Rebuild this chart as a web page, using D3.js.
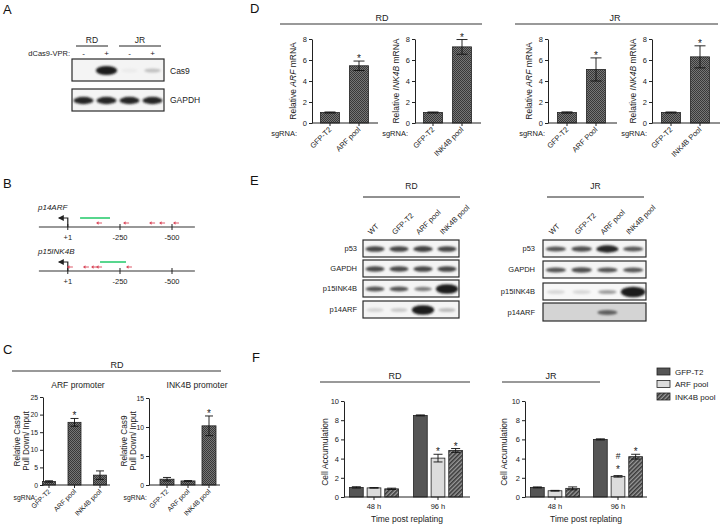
<!DOCTYPE html>
<html><head><meta charset="utf-8">
<script src="https://cdn.jsdelivr.net/npm/d3@7"></script>
<style>body{margin:0;background:#fff} svg{display:block;font-family:"Liberation Sans",Arial,sans-serif}</style>
</head><body><svg id="c" width="722" height="525"></svg>
<script>
// ---------------- DATA ----------------
// Panel A blot
const aLanes = ["-", "+", "-", "+"];
const aCells = ["RD", "JR"];
const aCas9 = [0.0, 0.95, 0.02, 0.2];
const aGapdh = [0.85, 0.85, 0.85, 0.85];

// Panel B promoter maps (bp relative to TSS)
const bTicks = [1, -250, -500];
const bArfGuide = [-58, -202];
const bArfPrimers = [-154, -284, -409, -457, -524];
const bInkGuide = [-154, -279];
const bInkPrimers = [-14, -91, -130, -154, -298];

// Panel C
const cCats = ["GFP-T2", "ARF pool", "INK4B pool"];
const cArfVals = [1.0, 17.8, 2.8];
const cArfErr = [0.2, 1.1, 1.2];
const cArfSig = ["", "*", ""];
const cArfTicks = [0, 5, 10, 15, 20, 25];
const cInkVals = [1.0, 0.7, 10.2];
const cInkErr = [0.3, 0.05, 1.7];
const cInkSig = ["", "", "*"];
const cInkTicks = [0, 5, 10, 15];

// Panel D
const dTicks = [0, 2, 4, 6, 8];
const dRdArfCats = ["GFP-T2", "ARF pool"];
const dRdArfVals = [1.0, 5.45];
const dRdArfErr = [0.05, 0.45];
const dRdInkCats = ["GFP-T2", "INK4B pool"];
const dRdInkVals = [1.0, 7.25];
const dRdInkErr = [0.05, 0.7];
const dJrArfCats = ["GFP-T2", "ARF Pool"];
const dJrArfVals = [1.0, 5.1];
const dJrArfErr = [0.06, 1.1];
const dJrInkCats = ["GFP-T2", "INK4B Pool"];
const dJrInkVals = [1.0, 6.3];
const dJrInkErr = [0.05, 1.05];
const dSig = ["", "*"];

// Panel E blots
const eLanes = ["WT", "GFP-T2", "ARF pool", "INK4B pool"];
const eRows = ["p53", "GAPDH", "p15INK4B", "p14ARF"];
const eRd = [
  [0.72, 0.72, 0.74, 0.72],
  [0.7, 0.7, 0.72, 0.72],
  [0.66, 0.66, 0.48, 0.97],
  [0.12, 0.16, 0.97, 0.22]
];
const eJr = [
  [0.66, 0.68, 0.85, 0.64],
  [0.66, 0.68, 0.66, 0.64],
  [0.1, 0.1, 0.35, 1.0],
  [0.0, 0.0, 0.62, 0.0]
];

// Panel F
const fSeries = ["GFP-T2", "ARF pool", "INK4B pool"];
const fTimes = ["48 h", "96 h"];
const fTicks = [0, 2, 4, 6, 8, 10];
const fRdVals = [[1.0, 0.95, 0.85], [8.5, 4.05, 4.85]];
const fRdErr = [[0.07, 0.03, 0.07], [0.05, 0.4, 0.2]];
const fRdSig = [[[], [], []], [[], ["*"], ["*"]]];
const fJrVals = [[1.0, 0.65, 0.9], [6.0, 2.15, 4.2]];
const fJrErr = [[0.05, 0.04, 0.15], [0.06, 0.08, 0.25]];
const fJrSig = [[[], [], []], [[], ["*", "#"], ["*"]]];

// ---------------- DRAWING ----------------
const svg = d3.select("#c");
svg.append("rect").attr("width", 722).attr("height", 525).attr("fill", "#fff");
const defs = svg.append("defs");

const cross = defs.append("pattern").attr("id", "cross").attr("patternUnits", "userSpaceOnUse")
  .attr("width", 2).attr("height", 2);
cross.append("rect").attr("width", 2).attr("height", 2).attr("fill", "#767676");
cross.append("rect").attr("width", 1).attr("height", 1).attr("fill", "#383838");
cross.append("rect").attr("x", 1).attr("y", 1).attr("width", 1).attr("height", 1).attr("fill", "#383838");

const hatch = defs.append("pattern").attr("id", "hatch").attr("patternUnits", "userSpaceOnUse")
  .attr("width", 3).attr("height", 3).attr("patternTransform", "rotate(45)");
hatch.append("rect").attr("width", 3).attr("height", 3).attr("fill", "#9a9a9a");
hatch.append("rect").attr("width", 1.6).attr("height", 3).attr("fill", "#3a3a3a");

const blur = defs.append("filter").attr("id", "blur").attr("x", "-20%").attr("y", "-50%")
  .attr("width", "140%").attr("height", "200%");
blur.append("feGaussianBlur").attr("stdDeviation", 0.9);

const arrowM = defs.append("marker").attr("id", "tss").attr("viewBox", "0 0 6 6")
  .attr("refX", 5).attr("refY", 3).attr("markerWidth", 5).attr("markerHeight", 5).attr("orient", "auto");
arrowM.append("path").attr("d", "M0,0 L6,3 L0,6 Z").attr("fill", "#222");

const fillFor = { "GFP-T2": "#555", "ARF pool": "#dcdcdc", "INK4B pool": "url(#hatch)" };

function txt(x, y, s, size, anchor, opts = {}) {
  const t = svg.append("text").attr("x", x).attr("y", y).attr("font-size", size)
    .attr("text-anchor", anchor || "start").attr("fill", opts.fill || "#222").text(s);
  if (opts.italic) t.attr("font-style", "italic");
  return t;
}
function hline(x0, x1, y, color, w) {
  svg.append("line").attr("x1", x0).attr("x2", x1).attr("y1", y).attr("y2", y)
    .attr("stroke", color).attr("stroke-width", w);
}

[["A", 3, 14], ["B", 3, 188], ["C", 3, 354], ["D", 250, 13], ["E", 250, 185], ["F", 252, 362]]
  .forEach(([l, x, y]) => txt(x, y, l, 13, "start", { fill: "#111" }));

function blot(x0, x1, y0, y1, vals, bg) {
  const g = svg.append("g");
  g.append("rect").attr("x", x0).attr("y", y0).attr("width", x1 - x0).attr("height", y1 - y0)
    .attr("fill", bg || "#f4f4f4");
  const lane = d3.scaleBand().domain(d3.range(vals.length)).range([x0, x1]);
  const col = d3.scaleLinear().domain([0, 1]).range(["#f0f0f0", "#1e1e1e"]).clamp(true);
  const bands = g.append("g").attr("filter", "url(#blur)");
  vals.forEach((v, i) => {
    if (v <= 0) return;
    const bw = lane.bandwidth();
    bands.append("ellipse").attr("cx", lane(i) + bw / 2).attr("cy", (y0 + y1) / 2 + 0.5)
      .attr("rx", bw * (0.36 + 0.12 * Math.pow(v, 3))).attr("ry", 2.0 + 3.2 * Math.pow(v, 4))
      .attr("fill", col(Math.min(1, v * 1.12)));
  });
  g.append("rect").attr("x", x0).attr("y", y0).attr("width", x1 - x0).attr("height", y1 - y0)
    .attr("fill", "none").attr("stroke", "#2a2a2a").attr("stroke-width", 1.2);
  return lane;
}

// ---- Panel A ----
(function () {
  const x0 = 72, x1 = 164;
  const lane = d3.scaleBand().domain(d3.range(aLanes.length)).range([x0, x1]);
  txt(92, 43, aCells[0], 8.5, "middle");
  txt(140, 43, aCells[1], 8.5, "middle");
  hline(76, 108, 46, "#222", 1);
  hline(119, 161, 46, "#222", 1);
  txt(70, 56, "dCas9-VPR:", 7.5, "end");
  aLanes.forEach((s, i) => txt(lane(i) + lane.bandwidth() / 2, 56, s, 8, "middle"));
  blot(x0, x1, 59, 81, aCas9);
  blot(x0, x1, 89, 111, aGapdh);
  txt(170, 74, "Cas9", 8.5, "start");
  txt(170, 103, "GAPDH", 8.5, "start");
})();

// ---- Panel B ----
(function () {
  const x = d3.scaleLinear().domain([0, -500]).range([68, 172]);
  function track(yBase, name, guide, primers) {
    txt(38, yBase - 17, name, 8, "start", { italic: true });
    hline(x(140), x(-610), yBase, "#333", 1.2);
    bTicks.forEach(t => {
      svg.append("line").attr("x1", x(t)).attr("x2", x(t)).attr("y1", yBase - 3).attr("y2", yBase + 3)
        .attr("stroke", "#222").attr("stroke-width", 1);
      txt(x(t), yBase + 13, t > 0 ? "+" + t : String(t), 7.5, "middle");
    });
    svg.append("path").attr("d", `M${x(1)},${yBase} V${yBase - 9} H${x(1) - 9}`)
      .attr("fill", "none").attr("stroke", "#222").attr("stroke-width", 1.2).attr("marker-end", "url(#tss)");
    hline(x(guide[0]), x(guide[1]), yBase - 9, "#2ecc71", 1.6);
    primers.forEach(p => {
      const px = x(p), py = yBase - 4;
      svg.append("line").attr("x1", px - 3).attr("x2", px + 2).attr("y1", py).attr("y2", py)
        .attr("stroke", "#d9475a").attr("stroke-width", 0.9);
      svg.append("path").attr("d", `M${px - 4},${py} L${px - 1.5},${py - 1.8} L${px - 1.5},${py + 1.8} Z`)
        .attr("fill", "#d9475a");
    });
  }
  track(227, "p14ARF", bArfGuide, bArfPrimers);
  track(271, "p15INK4B", bInkGuide, bInkPrimers);
})();

// ---- simple bar chart helper (C, D) ----
function simpleBar(o) {
  const fs = o.fs || 7.5;
  const y = d3.scaleLinear().domain([0, o.max]).range([o.y0, o.y1]);
  const x = d3.scalePoint().domain(o.cats).range([o.c0, o.c1]);
  const g = svg.append("g");
  const ya = g.append("g").attr("transform", `translate(${o.x0},0)`)
    .call(d3.axisLeft(y).tickValues(o.ticks).tickSize(3).tickSizeOuter(0).tickPadding(2));
  ya.select(".domain").attr("stroke", "#222");
  ya.selectAll(".tick line").attr("stroke", "#222");
  ya.selectAll("text").attr("font-size", fs).attr("fill", "#222").attr("font-family", "Liberation Sans, Arial");
  g.selectAll(".bar").data(o.cats).join("rect")
    .attr("x", d => x(d) - o.bw / 2).attr("width", o.bw)
    .attr("y", (d, i) => y(o.vals[i])).attr("height", (d, i) => o.y0 - y(o.vals[i]))
    .attr("fill", "url(#cross)").attr("stroke", "#222").attr("stroke-width", 0.8);
  o.cats.forEach((c, i) => {
    const cx = x(c), lo = y(o.vals[i] - o.errs[i]), hi = y(o.vals[i] + o.errs[i]);
    g.append("line").attr("x1", cx).attr("x2", cx).attr("y1", lo).attr("y2", hi).attr("stroke", "#111").attr("stroke-width", 0.9);
    [lo, hi].forEach(yy => g.append("line").attr("x1", cx - o.cap / 2).attr("x2", cx + o.cap / 2)
      .attr("y1", yy).attr("y2", yy).attr("stroke", "#111").attr("stroke-width", 0.9));
    if (o.sig[i]) txt(cx, hi + 1, o.sig[i], 10, "middle");
  });
  g.append("line").attr("x1", o.x0).attr("x2", o.x1).attr("y1", o.y0).attr("y2", o.y0).attr("stroke", "#222");
  o.cats.forEach(c => {
    g.append("line").attr("x1", x(c)).attr("x2", x(c)).attr("y1", o.y0).attr("y2", o.y0 + 3).attr("stroke", "#222");
    g.append("text").attr("transform", `translate(${x(c) + 2},${o.y0 + 7}) rotate(-45)`)
      .attr("text-anchor", "end").attr("font-size", fs).attr("fill", "#222").text(c);
  });
  txt(o.sgX, o.sgY, "sgRNA:", fs, "end");
  const yl = g.append("text").attr("transform", `translate(${o.ylx},${o.yly}) rotate(-90)`)
    .attr("text-anchor", "middle").attr("font-size", o.ylfs || 8.5).attr("fill", "#222");
  o.ylab.forEach((line, li) => {
    const ts = yl.append("tspan").attr("x", 0).attr("dy", li === 0 ? 0 : 9);
    line.forEach(part => {
      const s = ts.append("tspan").text(part[0]);
      if (part[1]) s.attr("font-style", "italic");
    });
  });
  if (o.title) txt(o.title[1], o.title[2], o.title[0], 8.5, "middle");
}

// ---- Panel C ----
txt(117, 368, "RD", 9, "middle");
hline(12, 221, 371, "#777", 1.5);
simpleBar({ cats: cCats, vals: cArfVals, errs: cArfErr, sig: cArfSig, ticks: cArfTicks, max: 25,
  x0: 43, x1: 110, c0: 49, c1: 100, bw: 13, cap: 8, y0: 485, y1: 397, fs: 6.8, ylfs: 8.2,
  ylab: [[["Relative Cas9"]], [["Pull Down/ Input"]]], ylx: 20, yly: 441,
  sgX: 37, sgY: 500, title: ["ARF promoter", 78, 388] });
simpleBar({ cats: cCats, vals: cInkVals, errs: cInkErr, sig: cInkSig, ticks: cInkTicks, max: 15,
  x0: 149, x1: 220, c0: 167, c1: 209, bw: 14, cap: 8, y0: 485, y1: 398, fs: 6.8, ylfs: 8.2,
  ylab: [[["Relative Cas9"]], [["Pull Down/ Input"]]], ylx: 127, yly: 441,
  sgX: 147, sgY: 500, title: ["INK4B promoter", 197, 388] });

// ---- Panel D ----
txt(382, 21, "RD", 9, "middle");
hline(280, 482, 24, "#777", 1.5);
txt(615, 21, "JR", 9, "middle");
hline(515, 718, 24, "#777", 1.5);
const dCommon = { ticks: dTicks, max: 8, y0: 123, y1: 39, bw: 19, cap: 11, sig: dSig, sgY: 136 };
simpleBar(Object.assign({}, dCommon, { cats: dRdArfCats, vals: dRdArfVals, errs: dRdArfErr,
  x0: 312, x1: 378, c0: 330, c1: 359, ylab: [[["Relative "], ["ARF", true], [" mRNA"]]], ylx: 296, yly: 81, sgX: 297 }));
simpleBar(Object.assign({}, dCommon, { cats: dRdInkCats, vals: dRdInkVals, errs: dRdInkErr,
  x0: 415, x1: 481, c0: 433, c1: 462, ylab: [[["Relative "], ["INK4B", true], [" mRNA"]]], ylx: 399, yly: 81, sgX: 408 }));
simpleBar(Object.assign({}, dCommon, { cats: dJrArfCats, vals: dJrArfVals, errs: dJrArfErr,
  x0: 548, x1: 617, c0: 567, c1: 596, ylab: [[["Relative "], ["ARF", true], [" mRNA"]]], ylx: 532, yly: 81, sgX: 545 }));
simpleBar(Object.assign({}, dCommon, { cats: dJrInkCats, vals: dJrInkVals, errs: dJrInkErr,
  x0: 652, x1: 720, c0: 671, c1: 700, ylab: [[["Relative "], ["INK4B", true], [" mRNA"]]], ylx: 636, yly: 81, sgX: 647 }));

// ---- Panel E ----
function ePanel(cell, x0, x1, lineX0, lineX1, labX, rowsY, vals, bgs) {
  txt((lineX0 + lineX1) / 2, 189, cell, 8.5, "middle");
  hline(lineX0, lineX1, 197, "#222", 1);
  const lane = d3.scaleBand().domain(eLanes).range([x0, x1]);
  eLanes.forEach(l => {
    svg.append("text").attr("transform", `translate(${lane(l) + lane.bandwidth() / 2 - 4},235) rotate(-45)`)
      .attr("font-size", 7.5).attr("fill", "#222").text(l);
  });
  eRows.forEach((r, i) => {
    blot(x0, x1, rowsY[i][0], rowsY[i][1], vals[i], bgs[i]);
    txt(labX, (rowsY[i][0] + rowsY[i][1]) / 2 + 2.5, r, 7.5, "end");
  });
}
ePanel("RD", 363, 459, 363, 460, 357, [[240, 257], [260, 277], [280, 297], [301, 318]], eRd, [null, null, null, null]);
ePanel("JR", 543, 646, 547, 644, 535, [[240, 257], [261, 278], [283, 300], [303, 321]], eJr, [null, null, "#f7f7f7", "#d4d4d4"]);

// ---- Panel F ----
function fPanel(cell, x0, x1, g0, g1, vals, errs, sigs, headX0, headX1, ylx) {
  const y0 = 497, y1 = 401;
  const y = d3.scaleLinear().domain([0, 10]).range([y0, y1]);
  const xg = d3.scalePoint().domain(fTimes).range([g0, g1]);
  const xs = d3.scaleBand().domain(fSeries).range([-24.5, 24.5]).paddingInner(0.22);
  txt((headX0 + headX1) / 2, 379, cell, 9, "middle");
  hline(headX0, headX1, 382, "#777", 1.5);
  const g = svg.append("g");
  const ya = g.append("g").attr("transform", `translate(${x0},0)`)
    .call(d3.axisLeft(y).tickValues(fTicks).tickSize(3).tickSizeOuter(0).tickPadding(2));
  ya.select(".domain").attr("stroke", "#222");
  ya.selectAll(".tick line").attr("stroke", "#222");
  ya.selectAll("text").attr("font-size", 7.5).attr("fill", "#222").attr("font-family", "Liberation Sans, Arial");
  fTimes.forEach((t, ti) => {
    fSeries.forEach((s, si) => {
      const bx = xg(t) + xs(s), bw = xs.bandwidth(), cx = bx + bw / 2;
      const v = vals[ti][si], e = errs[ti][si];
      g.append("rect").attr("x", bx).attr("width", bw).attr("y", y(v)).attr("height", y0 - y(v))
        .attr("fill", fillFor[s]).attr("stroke", "#222").attr("stroke-width", 0.8);
      const lo = y(v - e), hi = y(v + e);
      g.append("line").attr("x1", cx).attr("x2", cx).attr("y1", lo).attr("y2", hi).attr("stroke", "#111").attr("stroke-width", 0.9);
      [lo, hi].forEach(yy => g.append("line").attr("x1", cx - 4.5).attr("x2", cx + 4.5).attr("y1", yy).attr("y2", yy)
        .attr("stroke", "#111").attr("stroke-width", 0.9));
      sigs[ti][si].forEach((m, mi) => {
        const extra = sigs[ti][si].length > 1 ? 6 : 2;
        txt(cx, hi - extra - mi * 9 + (m === "#" ? -2 : 0) + (m === "*" ? 3 : 0), m, m === "*" ? 10 : 8.5, "middle");
      });
    });
    g.append("line").attr("x1", xg(t)).attr("x2", xg(t)).attr("y1", y0).attr("y2", y0 + 3).attr("stroke", "#222");
    txt(xg(t), y0 + 12, t, 7.5, "middle");
  });
  g.append("line").attr("x1", x0).attr("x2", x1).attr("y1", y0).attr("y2", y0).attr("stroke", "#222");
  txt((x0 + x1) / 2, 522, "Time post replating", 8.5, "middle");
  g.append("text").attr("transform", `translate(${ylx},452) rotate(-90)`).attr("text-anchor", "middle")
    .attr("font-size", 8.5).attr("fill", "#222").text("Cell Accumulation");
}
fPanel("RD", 344, 470, 374, 438, fRdVals, fRdErr, fRdSig, 320, 470, 328);
fPanel("JR", 525, 647, 555, 618, fJrVals, fJrErr, fJrSig, 502, 600, 507);

fSeries.forEach((s, i) => {
  const ly = 368 + i * 12.5;
  svg.append("rect").attr("x", 657).attr("y", ly).attr("width", 13).attr("height", 7)
    .attr("fill", fillFor[s]).attr("stroke", "#222").attr("stroke-width", 0.8);
  txt(675, ly + 6.5, s, 8, "start");
});
</script></body></html>
